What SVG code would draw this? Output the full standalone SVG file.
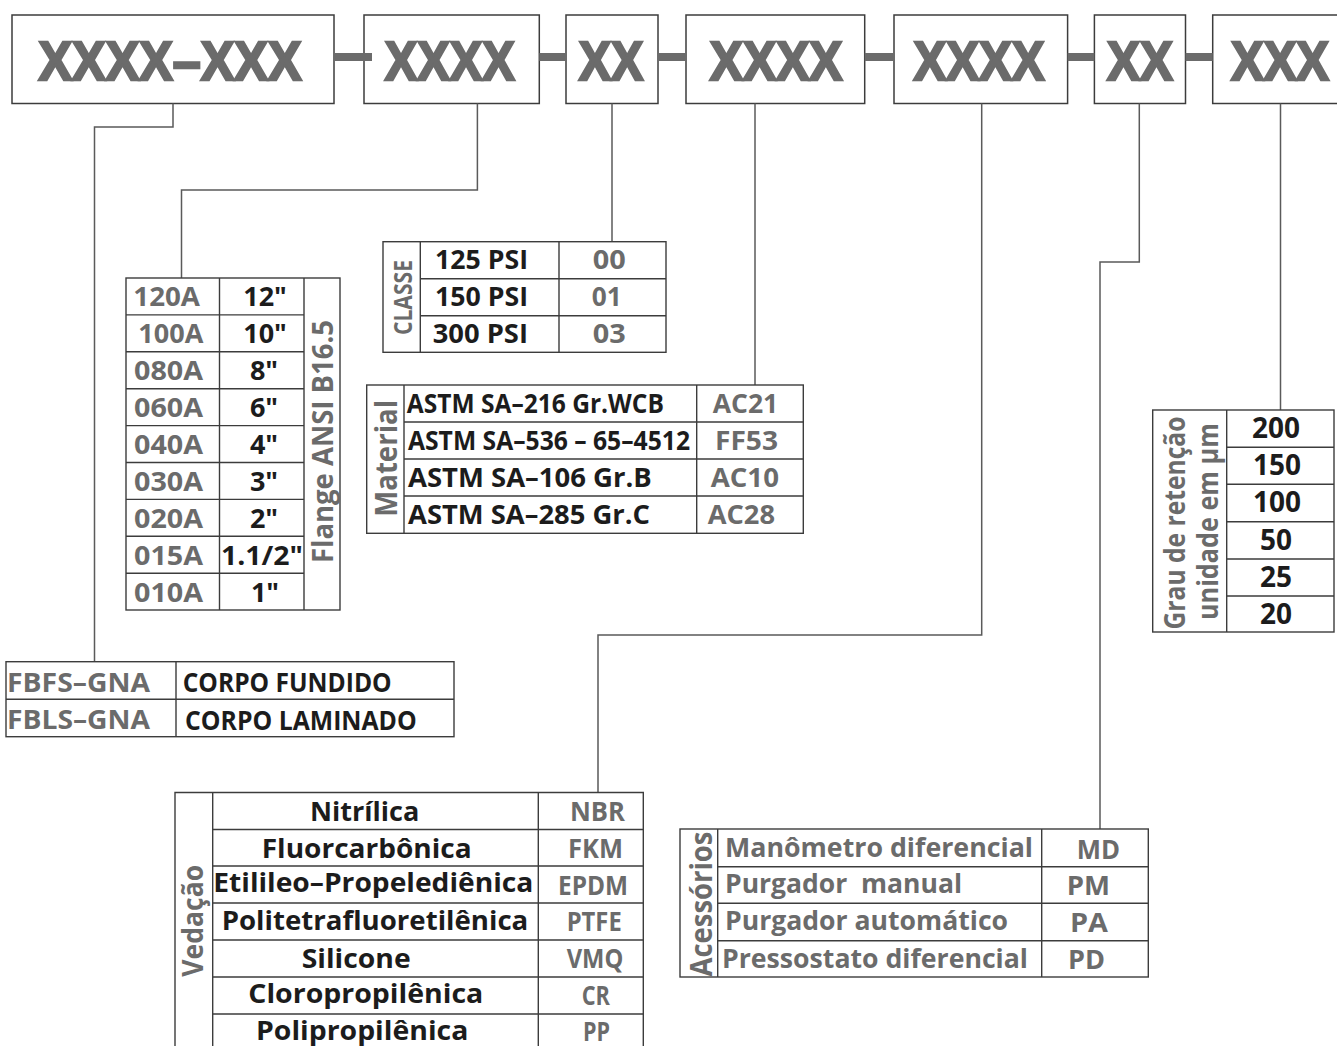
<svg xmlns="http://www.w3.org/2000/svg" width="1337" height="1046" viewBox="0 0 1337 1046">
<style>
.bx{fill:#fff;stroke:#3c3c3c;stroke-width:1.5}
.tb{fill:none;stroke:#3c3c3c;stroke-width:1.4}
.cn{fill:none;stroke:#5a5a5a;stroke-width:1.5}
.bar{fill:#6b6b6b}
.big{font-family:"Liberation Sans",Arial,sans-serif;font-weight:bold;font-size:56px;fill:#6b6b6b;stroke:#6b6b6b;stroke-width:2.6;stroke-linejoin:miter}
.t{font-family:"Open Sans","Liberation Sans",Arial,sans-serif;font-weight:bold;font-size:27px}
.k{fill:#1c1c1c}
.g{fill:#6b6b6b}
.m{text-anchor:middle}
</style>
<rect width="1337" height="1046" fill="#fff"/>

<g id="code-boxes">
<rect class="bx" x="12" y="15" width="322" height="88.5"/>
<rect class="bx" x="364" y="15" width="175.3" height="88.5"/>
<rect class="bx" x="566" y="15" width="92" height="88.5"/>
<rect class="bx" x="686" y="15" width="178.7" height="88.5"/>
<rect class="bx" x="894" y="15" width="173.6" height="88.5"/>
<rect class="bx" x="1094.4" y="15" width="91.1" height="88.5"/>
<rect class="bx" x="1212.7" y="15" width="140" height="88.5"/>
<text class="big" x="38.5" y="79.5" textLength="263" lengthAdjust="spacingAndGlyphs">XXXX–XXX</text>
<text class="big" x="384.8" y="79.5" textLength="130" lengthAdjust="spacingAndGlyphs">XXXX</text>
<text class="big" x="578.8" y="79.5" textLength="64.6" lengthAdjust="spacingAndGlyphs">XX</text>
<text class="big" x="709.8" y="79.5" textLength="132.7" lengthAdjust="spacingAndGlyphs">XXXX</text>
<text class="big" x="913.6" y="79.5" textLength="131" lengthAdjust="spacingAndGlyphs">XXXX</text>
<text class="big" x="1107" y="79.5" textLength="65.8" lengthAdjust="spacingAndGlyphs">XX</text>
<text class="big" x="1231" y="79.5" textLength="98" lengthAdjust="spacingAndGlyphs">XXX</text>
</g>

<g id="connectors">
<rect class="bar" x="334" y="53" width="38" height="8"/>
<rect class="bar" x="539.3" y="53" width="26.7" height="8"/>
<rect class="bar" x="658" y="53" width="28" height="8"/>
<rect class="bar" x="864.7" y="53" width="29.3" height="8"/>
<rect class="bar" x="1067.6" y="53" width="26.8" height="8"/>
<rect class="bar" x="1185.5" y="53" width="27.2" height="8"/>
<polyline class="cn" points="173,103.5 173,127 94.5,127 94.5,661.7"/>
<polyline class="cn" points="477.4,103.5 477.4,190 181.5,190 181.5,278"/>
<polyline class="cn" points="612,103.5 612,241.7"/>
<polyline class="cn" points="755,103.5 755,385"/>
<polyline class="cn" points="981.7,103.5 981.7,635 598,635 598,792.5"/>
<polyline class="cn" points="1139.3,103.5 1139.3,262 1100,262 1100,829"/>
<polyline class="cn" points="1280.5,103.5 1280.5,410"/>
</g>

<g id="flange-table">
<rect class="tb" x="126" y="278" width="214" height="332"/>
<path class="tb" d="M219.5,278V610M304,278V610M126,314.9H304M126,351.8H304M126,388.7H304M126,425.6H304M126,462.5H304M126,499.4H304M126,536.3H304M126,573.2H304"/>
<g class="t g">
<text x="133.3" y="306.3" textLength="66.7" lengthAdjust="spacingAndGlyphs">120A</text>
<text x="138.3" y="343.2" textLength="65" lengthAdjust="spacingAndGlyphs">100A</text>
<text x="134" y="380.1" textLength="69" lengthAdjust="spacingAndGlyphs">080A</text>
<text x="134" y="417" textLength="69" lengthAdjust="spacingAndGlyphs">060A</text>
<text x="134" y="453.9" textLength="69" lengthAdjust="spacingAndGlyphs">040A</text>
<text x="134" y="490.8" textLength="69" lengthAdjust="spacingAndGlyphs">030A</text>
<text x="134" y="527.7" textLength="69" lengthAdjust="spacingAndGlyphs">020A</text>
<text x="134" y="564.6" textLength="69" lengthAdjust="spacingAndGlyphs">015A</text>
<text x="134" y="601.5" textLength="69" lengthAdjust="spacingAndGlyphs">010A</text>
</g>
<g class="t k m">
<text x="265" y="306.3">12"</text>
<text x="265" y="343.2">10"</text>
<text x="264" y="380.1">8"</text>
<text x="264" y="417">6"</text>
<text x="264" y="453.9">4"</text>
<text x="264" y="490.8">3"</text>
<text x="264" y="527.7">2"</text>
<text x="262" y="564.6" textLength="82" lengthAdjust="spacingAndGlyphs">1.1/2"</text>
<text x="265" y="601.5">1"</text>
</g>
<text class="t g m" transform="translate(333,441.5) rotate(-90)" textLength="243" lengthAdjust="spacingAndGlyphs" style="font-size:29px">Flange ANSI B16.5</text>
</g>

<g id="classe-table">
<rect class="tb" x="383" y="241.7" width="283" height="110.6"/>
<path class="tb" d="M420.3,241.7V352.3M559,241.7V352.3M420.3,278.7H666M420.3,315.7H666"/>
<text class="t g m" transform="translate(411.5,297.5) rotate(-90)" textLength="75" lengthAdjust="spacingAndGlyphs" style="font-size:25px">CLASSE</text>
<g class="t k">
<text x="435" y="269.3" textLength="93" lengthAdjust="spacingAndGlyphs">125 PSI</text>
<text x="435" y="306.3" textLength="93" lengthAdjust="spacingAndGlyphs">150 PSI</text>
<text x="432.7" y="343.3" textLength="95.3" lengthAdjust="spacingAndGlyphs">300 PSI</text>
</g>
<g class="t g">
<text x="592.7" y="269.3" textLength="33" lengthAdjust="spacingAndGlyphs">00</text>
<text x="591.7" y="306.3" textLength="30" lengthAdjust="spacingAndGlyphs">01</text>
<text x="592.7" y="343.3" textLength="33" lengthAdjust="spacingAndGlyphs">03</text>
</g>
</g>

<g id="material-table">
<rect class="tb" x="366.7" y="385" width="436.6" height="148.3"/>
<path class="tb" d="M404,385V533.3M696.7,385V533.3M404,422H803.3M404,459H803.3M404,496H803.3"/>
<text class="t g m" transform="translate(396.5,458.3) rotate(-90)" textLength="116.7" lengthAdjust="spacingAndGlyphs" style="font-size:30px">Material</text>
<g class="t k">
<text x="406.7" y="412.7" textLength="257.3" lengthAdjust="spacingAndGlyphs">ASTM SA–216 Gr.WCB</text>
<text x="408" y="450" textLength="282" lengthAdjust="spacingAndGlyphs">ASTM SA–536 – 65–4512</text>
<text x="408" y="486.7" textLength="243.7" lengthAdjust="spacingAndGlyphs">ASTM SA–106 Gr.B</text>
<text x="408" y="524" textLength="242" lengthAdjust="spacingAndGlyphs">ASTM SA–285 Gr.C</text>
</g>
<g class="t g">
<text x="712.7" y="412.7" textLength="65.6" lengthAdjust="spacingAndGlyphs">AC21</text>
<text x="715" y="450" textLength="63" lengthAdjust="spacingAndGlyphs">FF53</text>
<text x="710.7" y="486.7" textLength="68.3" lengthAdjust="spacingAndGlyphs">AC10</text>
<text x="707.7" y="524" textLength="67.3" lengthAdjust="spacingAndGlyphs">AC28</text>
</g>
</g>

<g id="grau-table">
<rect class="tb" x="1152.7" y="410" width="181.3" height="222"/>
<path class="tb" d="M1226.7,410V632M1226.7,447.3H1334M1226.7,484.3H1334M1226.7,521.7H1334M1226.7,559H1334M1226.7,596H1334"/>
<text class="t g m" transform="translate(1185,523) rotate(-90)" textLength="213" lengthAdjust="spacingAndGlyphs" style="font-size:29px">Grau de retenção</text>
<text class="t g m" transform="translate(1218,521.5) rotate(-90)" textLength="197" lengthAdjust="spacingAndGlyphs" style="font-size:29px">unidade em µm</text>
<g class="t k m" style="font-size:28px">
<text x="1276" y="438">200</text>
<text x="1277" y="475">150</text>
<text x="1277" y="512.3">100</text>
<text x="1276" y="549.6">50</text>
<text x="1276" y="586.8">25</text>
<text x="1276" y="623.5">20</text>
</g>
</g>

<g id="corpo-table">
<rect class="tb" x="6" y="661.7" width="448" height="75"/>
<path class="tb" d="M176,661.7V736.7M6,699.3H454"/>
<g class="t g">
<text x="7" y="691.7" textLength="143" lengthAdjust="spacingAndGlyphs">FBFS–GNA</text>
<text x="7" y="728.5" textLength="143" lengthAdjust="spacingAndGlyphs">FBLS–GNA</text>
</g>
<g class="t k">
<text x="182.7" y="691.7" textLength="209" lengthAdjust="spacingAndGlyphs">CORPO FUNDIDO</text>
<text x="185" y="730" textLength="231.7" lengthAdjust="spacingAndGlyphs">CORPO LAMINADO</text>
</g>
</g>

<g id="vedacao-table">
<path class="tb" d="M175,1046V792.5H643.3V1046M212.7,792.5V1046M538.3,792.5V1046M212.7,829.5H643.3M212.7,866H643.3M212.7,903H643.3M212.7,940H643.3M212.7,977H643.3M212.7,1014H643.3"/>
<text class="t g m" transform="translate(203.3,920.8) rotate(-90)" textLength="111.7" lengthAdjust="spacingAndGlyphs" style="font-size:28px">Vedação</text>
<g class="t k">
<text x="310" y="821" textLength="109.3" lengthAdjust="spacingAndGlyphs">Nitrílica</text>
<text x="261.7" y="857.7" textLength="210" lengthAdjust="spacingAndGlyphs">Fluorcarbônica</text>
<text x="213.3" y="892.3" textLength="320" lengthAdjust="spacingAndGlyphs">Etilileo–Propelediênica</text>
<text x="221.7" y="930" textLength="306.6" lengthAdjust="spacingAndGlyphs">Politetrafluoretilênica</text>
<text x="301.7" y="968.3" textLength="109" lengthAdjust="spacingAndGlyphs">Silicone</text>
<text x="248.3" y="1003" textLength="235" lengthAdjust="spacingAndGlyphs">Cloropropilênica</text>
<text x="256" y="1039.5" textLength="212.3" lengthAdjust="spacingAndGlyphs">Polipropilênica</text>
</g>
<g class="t g">
<text x="570" y="821" textLength="55" lengthAdjust="spacingAndGlyphs">NBR</text>
<text x="568" y="857.7" textLength="55" lengthAdjust="spacingAndGlyphs">FKM</text>
<text x="558" y="894.5" textLength="70" lengthAdjust="spacingAndGlyphs">EPDM</text>
<text x="566.7" y="931" textLength="55" lengthAdjust="spacingAndGlyphs">PTFE</text>
<text x="566.7" y="968.3" textLength="56.6" lengthAdjust="spacingAndGlyphs">VMQ</text>
<text x="581.7" y="1005" textLength="28.3" lengthAdjust="spacingAndGlyphs">CR</text>
<text x="583" y="1040.5" textLength="27" lengthAdjust="spacingAndGlyphs">PP</text>
</g>
</g>

<g id="acessorios-table">
<rect class="tb" x="680" y="829" width="468.3" height="148"/>
<path class="tb" d="M717.7,829V977M1041.7,829V977M717.7,866.7H1148.3M717.7,903.3H1148.3M717.7,940.7H1148.3"/>
<text class="t g m" transform="translate(711.7,904) rotate(-90)" textLength="145" lengthAdjust="spacingAndGlyphs" style="font-size:30px">Acessórios</text>
<g class="t g">
<text x="725" y="857" textLength="308" lengthAdjust="spacingAndGlyphs">Manômetro diferencial</text>
<text x="725" y="893" textLength="237" lengthAdjust="spacingAndGlyphs" xml:space="preserve">Purgador  manual</text>
<text x="725" y="929.5" textLength="283" lengthAdjust="spacingAndGlyphs">Purgador automático</text>
<text x="722" y="968" textLength="306" lengthAdjust="spacingAndGlyphs">Pressostato diferencial</text>
<text x="1076.7" y="859" textLength="43.3" lengthAdjust="spacingAndGlyphs">MD</text>
<text x="1066.7" y="895" textLength="43.3" lengthAdjust="spacingAndGlyphs">PM</text>
<text x="1070" y="932" textLength="38" lengthAdjust="spacingAndGlyphs">PA</text>
<text x="1068" y="969" textLength="37" lengthAdjust="spacingAndGlyphs">PD</text>
</g>
</g>
</svg>
